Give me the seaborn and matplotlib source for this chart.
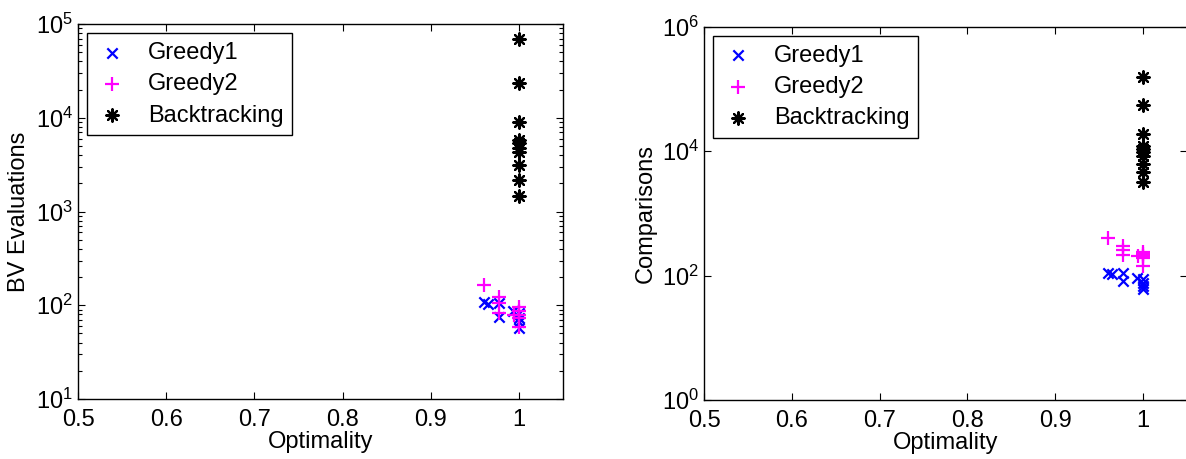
import numpy as np
import pandas as pd
import seaborn as sns
import matplotlib
matplotlib.use("Agg")
import matplotlib.pyplot as plt
from matplotlib.ticker import LogLocator, NullLocator, FormatStrFormatter

# optimality of each run (shared by both panels)
g1_opt = [0.96, 0.965, 0.977, 0.977, 0.993, 1.0, 1.0, 1.0, 1.0]
g2_opt = [0.96, 0.977, 0.977, 0.977, 0.994, 1.0, 1.0, 1.0, 1.0, 1.0]
bt_opt = [1.0] * 10

# left panel: BV evaluations
g1_bv = [108, 104, 105, 75, 86, 83, 73, 66, 57]
g2_bv = [165, 123, 105, 83, 79, 96, 86, 79, 73, 59]
bt_bv = [69000, 23300, 8950, 5750, 5340, 4700, 4270, 3150, 2190, 1480]

# right panel: comparisons
g1_cmp = [112, 105, 112, 81, 90, 87, 77, 67, 62]
g2_cmp = [400, 295, 255, 214, 204, 237, 220, 204, 190, 141]
bt_cmp = [155000, 55000, 19000, 12300, 11000, 9800, 8500, 6300, 4700, 3200]

x_ticks = [0.5, 0.6, 0.7, 0.8, 0.9, 1.0]

sns.set_style("ticks")
plt.rcParams["font.family"] = ["Liberation Sans", "DejaVu Sans"]
plt.rcParams["mathtext.fontset"] = "custom"
plt.rcParams["mathtext.rm"] = "Liberation Sans"
plt.rcParams["font.size"] = 17
plt.rcParams["text.color"] = "black"
plt.rcParams["axes.labelcolor"] = "black"
plt.rcParams["xtick.color"] = "black"
plt.rcParams["ytick.color"] = "black"

series = [
    ("Greedy1", "blue", "x", 55),
    ("Greedy2", "magenta", "+", 110),
    ("Backtracking", "black", (8, 2, 0), 80),
]


def draw(ax, ys, ylabel, ylim, every_decade):
    opts = [g1_opt, g2_opt, bt_opt]
    for (name, col, mk, s), x, y in zip(series, opts, ys):
        df = pd.DataFrame({"opt": x, "val": y})
        sns.scatterplot(data=df, x="opt", y="val", ax=ax, color=col, marker=mk,
                        s=s, linewidth=1.6, label=name, zorder=3)
    ax.set_yscale("log")
    ax.set_xlim(0.5, 1.05)
    ax.set_ylim(*ylim)
    ax.set_xticks(x_ticks)
    ax.xaxis.set_major_formatter(FormatStrFormatter("%g"))
    if every_decade:
        ax.yaxis.set_major_locator(LogLocator(base=10, numticks=20))
        ax.yaxis.set_minor_locator(LogLocator(base=10, subs=np.arange(2, 10), numticks=20))
    else:
        ax.set_yticks([1e0, 1e2, 1e4, 1e6])
        ax.yaxis.set_minor_locator(NullLocator())
    ax.tick_params(which="both", direction="in", top=True, right=True,
                   labelsize=17, width=0.8, colors="black")
    ax.tick_params(which="major", length=5)
    ax.tick_params(which="minor", length=3)
    ax.tick_params(axis="x", pad=7)
    for sp in ax.spines.values():
        sp.set_visible(True)
        sp.set_linewidth(1.0)
        sp.set_color("black")
    ax.set_xlabel("Optimality", fontsize=17, labelpad=0)
    ax.set_ylabel(ylabel, fontsize=17, labelpad=4)
    leg = ax.legend(loc="upper left", fontsize=17, frameon=True, fancybox=False,
                    edgecolor="black", framealpha=1, borderaxespad=0.4,
                    handlelength=1.4, handletextpad=0.8, borderpad=0.35,
                    labelspacing=0.4)
    leg.get_frame().set_linewidth(1.0)


fig = plt.figure(figsize=(11.86, 4.59), dpi=100)
ax1 = fig.add_axes([0.0658, 0.1307, 0.409, 0.817])
ax2 = fig.add_axes([0.5936, 0.1285, 0.4073, 0.813])

draw(ax1, [g1_bv, g2_bv, bt_bv], "BV Evaluations", (1e1, 1e5), True)
draw(ax2, [g1_cmp, g2_cmp, bt_cmp], "Comparisons", (1e0, 1e6), False)

fig.savefig("out.png", dpi=100, facecolor="white")
